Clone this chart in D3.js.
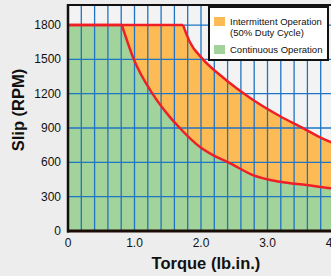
<!DOCTYPE html>
<html lang="en">
	<head>
		<meta charset="utf-8">
		<title>Torque vs Slip</title>
		<script type="text/javascript" src="https://cdn.jsdelivr.net/npm/d3@7"></script>
		<style>
			body {
				margin: 0;
				background: #ededed;
			}
			text {
				font-family: "Liberation Sans", Arial, sans-serif;
				fill: #111;
			}
			.tick-label {
				font-size: 12px;
			}
			.title {
				font-size: 16.5px;
				font-weight: bold;
			}
			.legend text {
				font-size: 9.5px;
			}
		</style>
	</head>
	<body>
		<script type="text/javascript">
			// continuous operation boundary (torque lb.in., slip rpm)
			var contTorque = [0, 0.81, 0.99, 1.27, 1.53, 1.68, 1.98, 2.18, 2.41, 2.78, 3.19, 3.59, 3.95, 4.1];
			var contSlip   = [1800, 1800, 1500, 1200, 997, 900, 736, 663, 600, 489, 430, 401, 373, 366];

			// intermittent operation boundary
			var intTorque = [0, 1.73, 1.83, 2.03, 2.29, 2.54, 2.79, 3.19, 3.52, 3.83, 4.1];
			var intSlip   = [1800, 1800, 1654, 1500, 1361, 1245, 1143, 1003, 903, 807, 745];

			var xTicks = [0, 1, 2, 3, 4];
			var yTicks = [0, 300, 600, 900, 1200, 1500, 1800];
			var legendLabels = [["Intermittent Operation", "(50% Duty Cycle)"], ["Continuous Operation"]];
			var legendColors = ["#fdbb55", "#a2d39b"];

			var w = 331;
			var h = 276;

			var svg = d3.select("body")
						.append("svg")
						.attr("width", w)
						.attr("height", h);

			var xScale = d3.scaleLinear()
						   .domain([0, 4])
						   .range([68, 334]);
			var yScale = d3.scaleLinear()
						   .domain([0, 1975])
						   .range([231, 5]);

			function toPts(xs, ys) {
				return xs.map(function(d, i) { return [d, ys[i]]; });
			}
			var contPts = toPts(contTorque, contSlip);
			var intPts = toPts(intTorque, intSlip);

			// plot background
			svg.append("rect")
			   .attr("x", xScale(0))
			   .attr("y", yScale(1975))
			   .attr("width", w - xScale(0))
			   .attr("height", yScale(0) - yScale(1975))
			   .attr("fill", "#f3f3f3");

			// flat top is linear, the falling part is smooth
			function areaPath(pts) {
				var flat = pts.slice(0, 2);
				var fall = pts.slice(1);
				var a1 = d3.area().x(function(d){ return xScale(d[0]); }).y0(yScale(0)).y1(function(d){ return yScale(d[1]); });
				var a2 = d3.area().curve(d3.curveMonotoneX).x(function(d){ return xScale(d[0]); }).y0(yScale(0)).y1(function(d){ return yScale(d[1]); });
				return [a1(flat), a2(fall)];
			}
			function linePath(pts) {
				var l1 = d3.line().x(function(d){ return xScale(d[0]); }).y(function(d){ return yScale(d[1]); });
				var l2 = d3.line().curve(d3.curveMonotoneX).x(function(d){ return xScale(d[0]); }).y(function(d){ return yScale(d[1]); });
				return l1(pts.slice(0, 2)) + l2(pts.slice(1));
			}

			var plot = svg.append("g");

			areaPath(intPts).forEach(function(p) {
				plot.append("path").attr("d", p).attr("fill", legendColors[0]);
			});
			areaPath(contPts).forEach(function(p) {
				plot.append("path").attr("d", p).attr("fill", legendColors[1]);
			});

			// grid
			var vLines = d3.range(1, 21).map(function(i) { return i * 0.2; });
			plot.selectAll(".vgrid")
			   .data(vLines)
			   .enter()
			   .append("line")
			   .attr("x1", function(d) { return xScale(d); })
			   .attr("x2", function(d) { return xScale(d); })
			   .attr("y1", yScale(1975))
			   .attr("y2", yScale(0))
			   .attr("stroke", "#1f74c4")
			   .attr("stroke-width", 1.3);
			plot.selectAll(".hgrid")
			   .data(yTicks.slice(1))
			   .enter()
			   .append("line")
			   .attr("x1", xScale(0))
			   .attr("x2", w)
			   .attr("y1", function(d) { return yScale(d); })
			   .attr("y2", function(d) { return yScale(d); })
			   .attr("stroke", "#1f74c4")
			   .attr("stroke-width", 1.3);

			// boundary curves
			[intPts, contPts].forEach(function(pts) {
				plot.append("path")
				   .attr("d", linePath(pts))
				   .attr("fill", "none")
				   .attr("stroke", "#ee1f26")
				   .attr("stroke-width", 2.5);
			});

			// frame
			svg.append("line")
			   .attr("x1", xScale(0)).attr("x2", w)
			   .attr("y1", yScale(1975)).attr("y2", yScale(1975))
			   .attr("stroke", "#111").attr("stroke-width", 2);
			svg.append("line")
			   .attr("x1", xScale(0)).attr("x2", xScale(0))
			   .attr("y1", yScale(1975) - 1).attr("y2", yScale(0) + 1.5)
			   .attr("stroke", "#111").attr("stroke-width", 2.5);
			svg.append("line")
			   .attr("x1", xScale(0) - 1).attr("x2", w)
			   .attr("y1", yScale(0)).attr("y2", yScale(0))
			   .attr("stroke", "#1a0d05").attr("stroke-width", 3);

			// tick labels
			svg.selectAll(".ylab")
			   .data(yTicks)
			   .enter()
			   .append("text")
			   .attr("class", "tick-label")
			   .attr("x", 61)
			   .attr("y", function(d) { return yScale(d) + 4; })
			   .attr("text-anchor", "end")
			   .text(function(d) { return d; });
			svg.selectAll(".xlab")
			   .data(xTicks)
			   .enter()
			   .append("text")
			   .attr("class", "tick-label")
			   .attr("x", function(d) { return xScale(d); })
			   .attr("y", 247)
			   .attr("text-anchor", "middle")
			   .text(function(d) { return d === 0 ? "0" : d.toFixed(1); });

			// axis titles
			svg.append("text")
			   .attr("class", "title")
			   .attr("x", 206)
			   .attr("y", 269)
			   .attr("text-anchor", "middle")
			   .text("Torque (lb.in.)");
			svg.append("text")
			   .attr("class", "title")
			   .attr("transform", "translate(24,110) rotate(-90)")
			   .attr("text-anchor", "middle")
			   .text("Slip (RPM)");

			// legend
			var legend = svg.append("g").attr("class", "legend");
			legend.append("rect")
			   .attr("x", 209).attr("y", 7)
			   .attr("width", 119).attr("height", 53)
			   .attr("fill", "#fff")
			   .attr("stroke", "#111")
			   .attr("stroke-width", 2);
			var rows = [17, 45];
			legendLabels.forEach(function(lines, i) {
				legend.append("rect")
				   .attr("x", 214).attr("y", rows[i])
				   .attr("width", 11).attr("height", 9)
				   .attr("fill", legendColors[i]);
				lines.forEach(function(t, j) {
					legend.append("text")
					   .attr("x", 230)
					   .attr("y", rows[i] + 8 + j * 11)
					   .text(t);
				});
			});
		</script>
	</body>
</html>
